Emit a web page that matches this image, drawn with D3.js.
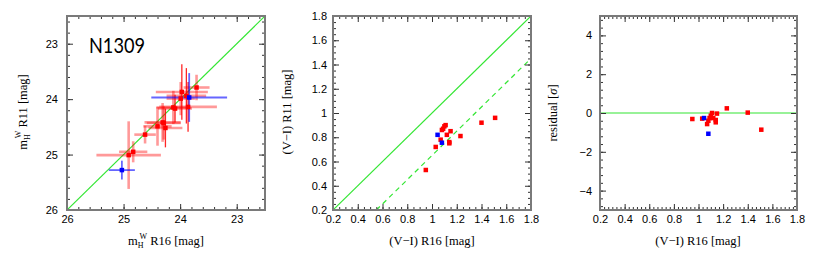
<!DOCTYPE html>
<html><head><meta charset="utf-8">
<script src="https://cdn.jsdelivr.net/npm/d3@7/dist/d3.min.js"></script>
<style>
body{margin:0;background:#fff;}
svg{display:block;}
.tk text{font-family:"Liberation Sans",Arial,sans-serif;font-size:11px;fill:#000;}
.tk line{stroke:#333;stroke-width:1;}
.tk path{display:none;}
.ttl{font-family:"Liberation Serif","Times New Roman",serif;font-size:12.5px;fill:#000;}
</style></head><body>
<svg id="c" width="817" height="262"></svg>
<script>
// ---------- Panel 1: m_H^W R16 vs R11 (red = ok, blue = other) ----------
const magR16 = [23.71, 23.97, 23.89, 23.99, 23.86, 24.12, 24.09, 24.31, 24.29, 24.40, 24.26, 24.62, 24.83, 24.91];
const magR11 = [23.79, 23.87, 23.94, 23.99, 24.14, 24.15, 24.17, 24.42, 24.43, 24.49, 24.52, 24.64, 24.95, 25.01];
const magErrX = [0.23, 0.46, 0.35, 0.25, 0.51, 0.30, 0.30, 0.32, 0.30, 0.25, 0.30, 0.19, 0.25, 0.57];
const magErrY = [0.23, 0.50, 0.50, 0.30, 0.45, 0.30, 0.25, 0.35, 0.30, 0.35, 0.35, 0.16, 0.19, 0.61];
const magDarkV = [0, 1, 1, 0, 1, 0, 1, 0, 0, 0, 1, 0, 0, 0];
const magBlueR16 = [23.84, 25.03];
const magBlueR11 = [23.97, 25.28];
const magBlueErrX = [0.67, 0.23];
const magBlueErrY = [0.44, 0.17];
const magTicks = [26, 25, 24, 23];

// ---------- Panel 2: (V-I) R16 vs R11 ----------
const viR16 = [0.95, 1.03, 1.07, 1.08, 1.09, 1.10, 1.11, 1.12, 1.15, 1.14, 1.14, 1.23, 1.40, 1.51];
const viR11 = [0.53, 0.72, 0.78, 0.86, 0.87, 0.89, 0.90, 0.82, 0.85, 0.76, 0.75, 0.81, 0.92, 0.96];
const viBlueR16 = [1.045, 1.08];
const viBlueR11 = [0.82, 0.755];
const viTicks = [0.2, 0.4, 0.6, 0.8, 1, 1.2, 1.4, 1.6, 1.8];
const colorOffset = 0.35;

// ---------- Panel 3: residual [sigma] vs (V-I) R16 ----------
const resid = [-0.31, -0.29, -0.57, -0.40, -0.26, -0.14, 0.0, -0.26, -0.03, -0.36, -0.48, 0.24, 0.02, -0.86];
const residBlue = [-0.26, -1.07];
const residTicks = [-4, -2, 0, 2, 4];

const label = "N1309";

const svg = d3.select("#c");
const RED = "#ff0000", BLUE = "#0000ff", GREEN = "#33e633";
const fmt = d => (d < 0 ? "\u2212" + Math.abs(d) : String(d));

function minors(lo, hi, step) {
  const out = [];
  const n = Math.round((hi - lo) / step);
  for (let i = 0; i <= n; i++) out.push(+(lo + i * step).toFixed(6));
  return out;
}

function frame(p) {
  const [x0, x1] = p.x.range(), [y0, y1] = p.y.range();
  const g = svg.append("g");
  // minor + major ticks on all four sides, inward
  const defs = [
    [d3.axisBottom, p.x, y0, 0, true],
    [d3.axisTop, p.x, y1, 0, false],
    [d3.axisLeft, p.y, 0, x0, true],
    [d3.axisRight, p.y, 0, x1, false]
  ];
  defs.forEach(([ax, sc, ty, tx, lab]) => {
    const isX = (ax === d3.axisBottom || ax === d3.axisTop);
    const mv = isX ? p.xMinor : p.yMinor;
    const Mv = isX ? p.xTicks : p.yTicks;
    g.append("g").attr("class", "tk").attr("transform", `translate(${tx},${ty})`)
      .call(ax(sc).tickValues(mv).tickSize(-3).tickFormat(""));
    const a = ax(sc).tickValues(Mv).tickSize(-6)
      .tickPadding(isX ? 5 : p.ypad)
      .tickFormat(lab ? fmt : "");
    g.append("g").attr("class", "tk").attr("transform", `translate(${tx},${ty})`).call(a);
  });
  g.append("rect").attr("x", x0).attr("y", y1).attr("width", x1 - x0).attr("height", y0 - y1)
    .attr("fill", "none").attr("stroke", "#7a7a7a").attr("stroke-width", 2);
}

function clipFor(id, p) {
  const [x0, x1] = p.x.range(), [y0, y1] = p.y.range();
  svg.append("clipPath").attr("id", id).append("rect")
    .attr("x", x0).attr("y", y1).attr("width", x1 - x0).attr("height", y0 - y1);
}

// ---------- Panel 1 ----------
const p1 = {
  x: d3.scaleLinear().domain([26, 22.5]).range([67, 265]),
  y: d3.scaleLinear().domain([26, 22.5]).range([210, 16]),
  xTicks: magTicks, yTicks: magTicks,
  xMinor: minors(22.6, 26, 0.2), yMinor: minors(22.6, 26, 0.2), ypad: 9
};
clipFor("cl1", p1);
const g1 = svg.append("g").attr("clip-path", "url(#cl1)");
g1.append("line").attr("x1", p1.x(26)).attr("y1", p1.y(26)).attr("x2", p1.x(22.5)).attr("y2", p1.y(22.5))
  .attr("stroke", GREEN).attr("stroke-width", 1.2);
const redPts = magR16.map((v, i) => ({x: v, y: magR11[i], ex: magErrX[i], ey: magErrY[i], dark: magDarkV[i]}));
const bluePts = magBlueR16.map((v, i) => ({x: v, y: magBlueR11[i], ex: magBlueErrX[i], ey: magBlueErrY[i]}));
function errBars(g, pts, col, op, w) {
  g.selectAll(null).data(pts).enter().append("line")
    .attr("x1", d => p1.x(d.x - d.ex)).attr("x2", d => p1.x(d.x + d.ex))
    .attr("y1", d => p1.y(d.y)).attr("y2", d => p1.y(d.y))
    .attr("stroke", col).attr("stroke-opacity", op).attr("stroke-width", w);
  g.selectAll(null).data(pts).enter().append("line")
    .attr("x1", d => p1.x(d.x)).attr("x2", d => p1.x(d.x))
    .attr("y1", d => p1.y(d.y - d.ey)).attr("y2", d => p1.y(d.y + d.ey))
    .attr("stroke", col).attr("stroke-opacity", d => d.dark ? 0.85 : op)
    .attr("stroke-width", d => d.dark ? 1.3 : w);
}
errBars(g1, redPts, RED, 0.4, 2.6);
errBars(g1, bluePts, BLUE, 0.6, 1.8);
function squares(g, pts, xs, ys, col, s) {
  g.selectAll(null).data(pts).enter().append("rect")
    .attr("x", d => xs(d.x) - s / 2).attr("y", d => ys(d.y) - s / 2)
    .attr("width", s).attr("height", s).attr("fill", col);
}
squares(g1, redPts, p1.x, p1.y, RED, 4.5);
squares(g1, bluePts, p1.x, p1.y, BLUE, 4.5);
frame(p1);
svg.append("text").attr("x", 89).attr("y", 53)
  .attr("font-family", "Lato, 'Open Sans', sans-serif").attr("font-size", 21)
  .attr("textLength", 56).attr("lengthAdjust", "spacingAndGlyphs").text(label);

function magTitle(t, txt) {
  t.append("tspan").text("m");
  t.append("tspan").attr("font-size", 8).attr("dy", 3).text("H");
  t.append("tspan").attr("font-size", 8).attr("dx", -4).attr("dy", -9).text("W");
  t.append("tspan").attr("dy", 6).text(" " + txt);
}
magTitle(svg.append("text").attr("class", "ttl").attr("text-anchor", "middle")
  .attr("x", 166).attr("y", 245), "R16 [mag]");
magTitle(svg.append("text").attr("class", "ttl").attr("text-anchor", "middle")
  .attr("transform", "translate(27,112) rotate(-90)"), "R11 [mag]");

// ---------- Panel 2 ----------
const p2 = {
  x: d3.scaleLinear().domain([0.2, 1.8]).range([333, 531]),
  y: d3.scaleLinear().domain([0.2, 1.8]).range([210, 16]),
  xTicks: viTicks, yTicks: viTicks,
  xMinor: minors(0.2, 1.8, 0.05), yMinor: minors(0.2, 1.8, 0.05), ypad: 6
};
clipFor("cl2", p2);
const g2 = svg.append("g").attr("clip-path", "url(#cl2)");
g2.append("line").attr("x1", p2.x(0.2)).attr("y1", p2.y(0.2)).attr("x2", p2.x(1.8)).attr("y2", p2.y(1.8))
  .attr("stroke", GREEN).attr("stroke-width", 1.2);
g2.append("line").attr("x1", p2.x(0.2 + colorOffset)).attr("y1", p2.y(0.2)).attr("x2", p2.x(1.8)).attr("y2", p2.y(1.8 - colorOffset))
  .attr("stroke", GREEN).attr("stroke-width", 1.2).attr("stroke-dasharray", "5,4");
const r2 = viR16.map((v, i) => ({x: v, y: viR11[i]}));
const b2 = viBlueR16.map((v, i) => ({x: v, y: viBlueR11[i]}));
squares(g2, r2, p2.x, p2.y, RED, 4.5);
squares(g2, b2, p2.x, p2.y, BLUE, 4.5);
frame(p2);
svg.append("text").attr("class", "ttl").attr("text-anchor", "middle")
  .attr("x", 432).attr("y", 245).text("(V\u2212I)  R16  [mag]");
svg.append("text").attr("class", "ttl").attr("text-anchor", "middle")
  .attr("transform", "translate(291,112) rotate(-90)").text("(V\u2212I)  R11  [mag]");

// ---------- Panel 3 ----------
const p3 = {
  x: d3.scaleLinear().domain([0.2, 1.8]).range([600, 797]),
  y: d3.scaleLinear().domain([-5, 5]).range([210, 16]),
  xTicks: viTicks, yTicks: residTicks,
  xMinor: minors(0.2, 1.8, 0.2 / 6), yMinor: minors(-4.8, 4.8, 0.4), ypad: 8
};
clipFor("cl3", p3);
const g3 = svg.append("g").attr("clip-path", "url(#cl3)");
g3.append("line").attr("x1", p3.x(0.2)).attr("y1", p3.y(0)).attr("x2", p3.x(1.8)).attr("y2", p3.y(0))
  .attr("stroke", GREEN).attr("stroke-width", 1.2);
const r3 = viR16.map((v, i) => ({x: v, y: resid[i]}));
const b3 = viBlueR16.map((v, i) => ({x: v, y: residBlue[i]}));
squares(g3, r3, p3.x, p3.y, RED, 4.5);
squares(g3, b3, p3.x, p3.y, BLUE, 4.5);
frame(p3);
svg.append("text").attr("class", "ttl").attr("text-anchor", "middle")
  .attr("x", 698).attr("y", 245).text("(V\u2212I)  R16  [mag]");
const rt = svg.append("text").attr("class", "ttl").attr("text-anchor", "middle")
  .attr("transform", "translate(557,113) rotate(-90)");
rt.append("tspan").text("residual [");
rt.append("tspan").attr("font-style", "italic").text("\u03c3");
rt.append("tspan").text("]");
</script>
</body></html>
